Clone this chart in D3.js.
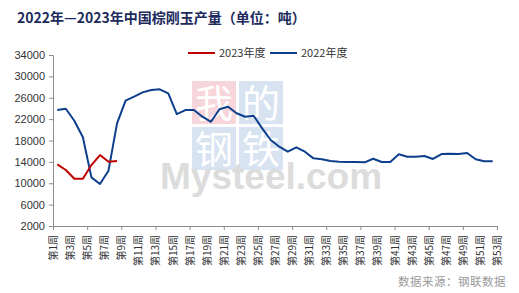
<!DOCTYPE html>
<html>
<head>
<meta charset="utf-8">
<script src="https://cdn.jsdelivr.net/npm/d3@7"></script>
<style>
  body { margin: 0; background: #fff; }
  text { font-family: "Liberation Sans", "Noto Sans CJK SC", sans-serif; }
</style>
</head>
<body>
<div id="chart"></div>
<script>
// --- data ---
const weekLabels = d3.range(1, 54).map(w => '第' + w + '周');
const yTicks = [2000, 6000, 10000, 14000, 18000, 22000, 26000, 30000, 34000];
const series2023 = [13540, 12480, 10850, 10850, 13410, 15280, 14030, 14160];
const series2022 = [23700, 23950, 21700, 18600, 11100, 9860, 12350, 21200, 25450, 26200,
                    27000, 27450, 27580, 26830, 22950, 23700, 23700, 22450, 21500, 23840,
                    24320, 23090, 22450, 22640, 20280, 18090, 16840, 15900, 16720, 15900,
                    14660, 14480, 14160, 14030, 13970, 13970, 13920, 14590, 13970, 13970,
                    15420, 14970, 14970, 15100, 14540, 15470, 15530, 15470, 15660, 14480,
                    14100, 14100];
const seriesNames = ['2023年度', '2022年度'];
const seriesColors = ['#c00000', '#0d3f8c'];

const W = 519, H = 293;
const plotL = 53, plotR = 497, plotT = 55, plotB = 226;

const svg = d3.select('#chart').append('svg')
    .attr('width', W).attr('height', H);

// Title
svg.append('text')
    .attr('x', 17).attr('y', 23)
    .style('font-family', "'Noto Sans CJK SC', sans-serif")
    .style('font-size', '14px').style('font-weight', '700')
    .style('fill', '#1c2b5c')
    .text('2022年—2023年中国棕刚玉产量（单位：吨）');

// Watermark
const wm = svg.append('g');
const boxes = [
    {ch: '我', x: 192, y: 81, c: '#f6d6da'},
    {ch: '的', x: 239, y: 81, c: '#d8e3f1'},
    {ch: '钢', x: 192, y: 127, c: '#d8e3f1'},
    {ch: '铁', x: 239, y: 127, c: '#d8e3f1'}
];
boxes.forEach(b => {
    wm.append('rect').attr('x', b.x).attr('y', b.y)
        .attr('width', 44).attr('height', 43).attr('fill', b.c);
    wm.append('text').attr('x', b.x + 22).attr('y', b.y + 36)
        .attr('text-anchor', 'middle')
        .style('font-family', "'Noto Sans CJK SC', sans-serif")
        .style('font-size', '38px').style('fill', '#fff')
        .text(b.ch);
});
wm.append('text').attr('x', 160).attr('y', 189)
    .style('font-family', "'Liberation Sans', sans-serif")
    .style('font-size', '37px').style('font-weight', '700')
    .style('fill', '#dcdcdc')
    .text('Mysteel.com');

// Scales
const y = d3.scaleLinear().domain([2000, 34000]).range([plotB, plotT]);
const xLab = d3.scalePoint().domain(weekLabels).range([plotL, plotR]);
const xData = d3.scaleBand().domain(d3.range(series2022.length)).range([plotL, plotR]);
const xc = i => xData(i) + xData.bandwidth() / 2;

// Y axis
const yAxis = svg.append('g')
    .attr('transform', `translate(${plotL},0)`)
    .call(d3.axisLeft(y).tickValues(yTicks).tickSize(4).tickPadding(4).tickFormat(d3.format('d')));
yAxis.select('.domain').attr('stroke', '#8c8c8c');
yAxis.selectAll('.tick line').attr('stroke', '#8c8c8c');
yAxis.selectAll('text').style('font-size', '11px').style('fill', '#333')
    .style('font-family', "'Liberation Sans', sans-serif");

// X axis: ticks every 4 weeks, labels every 2 weeks
const xTicks = svg.append('g')
    .attr('transform', `translate(0,${plotB})`)
    .call(d3.axisBottom(xLab).tickValues(weekLabels.filter((d, i) => i % 4 === 0))
        .tickSize(4).tickFormat(''));
xTicks.select('.domain').attr('stroke', '#8c8c8c');
xTicks.selectAll('.tick line').attr('stroke', '#8c8c8c');

const xLabels = svg.append('g')
    .attr('transform', `translate(0,${plotB})`)
    .call(d3.axisBottom(xLab).tickValues(weekLabels.filter((d, i) => i % 2 === 0)).tickSize(0));
xLabels.select('.domain').remove();
xLabels.selectAll('text')
    .attr('transform', 'rotate(-90)')
    .attr('text-anchor', 'end')
    .attr('x', -9).attr('y', 0).attr('dy', '0.35em')
    .style('font-family', "'Noto Sans CJK SC', sans-serif")
    .style('font-size', '10px').style('fill', '#333');

// Lines
const line = d3.line().x((d, i) => xc(i)).y(d => y(d));
[series2022, series2023].forEach((s, k) => {
    svg.append('path').datum(s)
        .attr('fill', 'none')
        .attr('stroke', k === 0 ? seriesColors[1] : seriesColors[0])
        .attr('stroke-width', 2)
        .attr('stroke-linejoin', 'round')
        .attr('d', line);
});

// Legend
const legX = [188, 270];
seriesNames.forEach((name, i) => {
    svg.append('line')
        .attr('x1', legX[i]).attr('x2', legX[i] + 27)
        .attr('y1', 53).attr('y2', 53)
        .attr('stroke', seriesColors[i]).attr('stroke-width', 2);
    svg.append('text')
        .attr('x', legX[i] + 31).attr('y', 57)
        .style('font-family', "'Noto Sans CJK SC', sans-serif")
        .style('font-size', '11px').style('fill', '#333')
        .text(name);
});

// Source note
svg.append('text')
    .attr('x', 506).attr('y', 286)
    .attr('text-anchor', 'end')
    .style('font-family', "'Noto Sans CJK SC', sans-serif")
    .style('font-size', '11.5px').style('fill', '#9a9a9a')
    .style('letter-spacing', '0.5px')
    .text('数据来源：钢联数据');
</script>
</body>
</html>
